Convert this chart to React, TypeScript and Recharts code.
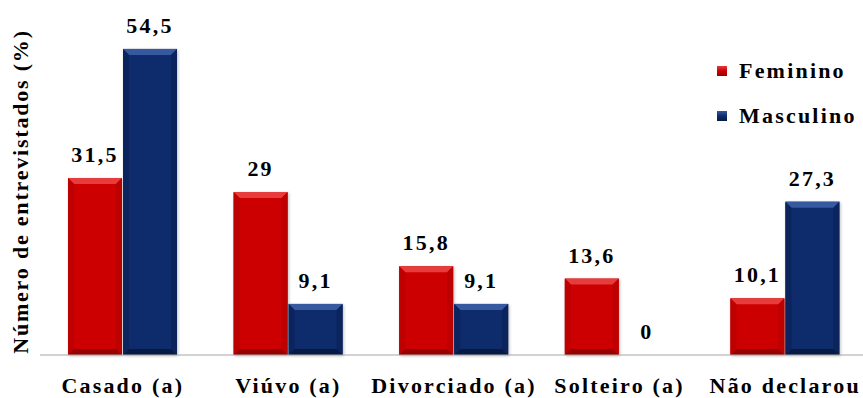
import React from 'react';
import { Bar, BarChart, LabelList, XAxis, YAxis } from 'recharts';

const categories = ['Casado (a)', 'Viúvo (a)', 'Divorciado (a)', 'Solteiro (a)', 'Não declarou'];
const feminino = [31.5, 29, 15.8, 13.6, 10.1];
const masculino = [54.5, 9.1, 9.1, 0, 27.3];

const data = categories.map((name, i) => ({ name, feminino: feminino[i], masculino: masculino[i] }));

const FONT = "'Liberation Serif', serif";
const SPACING = 2.2;

const palette = {
  feminino: { body: '#cc0000', light: '#e63c3c', side: '#bd0000', dark: '#960000' },
  masculino: { body: '#0e2b6c', light: '#36599f', side: '#0b245d', dark: '#071a46' },
};

type Tone = { body: string; light: string; side: string; dark: string };

// bar with a bevelled edge: lighter top, darker sides and bottom
const bevel = (tone: Tone) => (props: any) => {
  const { x, y, width, height } = props;
  if (!height || height <= 0) return <g />;
  const b = Math.min(6, height / 2, width / 2);
  const r = x + width;
  const btm = y + height;
  return (
    <g style={{ filter: 'drop-shadow(1px 1px 1.5px rgba(0,0,0,0.25))' }}>
      <rect x={x} y={y} width={width} height={height} fill={tone.body} />
      <polygon points={`${x},${y} ${r},${y} ${r - b},${y + b} ${x + b},${y + b}`} fill={tone.light} />
      <polygon points={`${x},${y} ${x + b},${y + b} ${x + b},${btm - b} ${x},${btm}`} fill={tone.side} />
      <polygon points={`${r},${y} ${r - b},${y + b} ${r - b},${btm - b} ${r},${btm}`} fill={tone.side} />
      <polygon points={`${x},${btm} ${x + b},${btm - b} ${r - b},${btm - b} ${r},${btm}`} fill={tone.dark} />
    </g>
  );
};

const valueLabel = (props: any) => {
  const { x, y, width, value } = props;
  return (
    <text
      x={x + width / 2}
      y={y - 16}
      textAnchor="middle"
      style={{ fontFamily: FONT, fontWeight: 'bold', fontSize: 22, letterSpacing: SPACING }}
      fill="#000"
    >
      {String(value).replace('.', ',')}
    </text>
  );
};

const CategoryTick = (props: any) => {
  const { x, y, payload } = props;
  return (
    <text
      x={x}
      y={y}
      dy={30}
      textAnchor="middle"
      style={{ fontFamily: FONT, fontWeight: 'bold', fontSize: 22, letterSpacing: SPACING }}
      fill="#000"
    >
      {payload.value}
    </text>
  );
};

const AxisTitle = (props: any) => {
  const { viewBox } = props;
  const cx = 28;
  const cy = viewBox.y + viewBox.height / 2 + 5;
  return (
    <text
      x={cx}
      y={cy}
      transform={`rotate(-90, ${cx}, ${cy})`}
      textAnchor="middle"
      style={{ fontFamily: FONT, fontWeight: 'bold', fontSize: 22, letterSpacing: 1.8 }}
      fill="#000"
    >
      Número de entrevistados (%)
    </text>
  );
};

const legendItems = [
  { label: 'Feminino', tone: palette.feminino },
  { label: 'Masculino', tone: palette.masculino },
];

const ChartLegend = () => (
  <div style={{ position: 'absolute', left: 717, top: 60, width: 146 }}>
    {legendItems.map((item, i) => (
      <div key={item.label} style={{ display: 'flex', alignItems: 'center', height: 22, marginBottom: i === 0 ? 23 : 0 }}>
        <span
          style={{
            display: 'inline-block',
            width: 10,
            height: 10,
            marginRight: 12,
            background: `linear-gradient(to bottom, ${item.tone.light}, ${item.tone.body} 50%, ${item.tone.dark})`,
          }}
        />
        <span
          style={{
            fontFamily: FONT,
            fontWeight: 'bold',
            fontSize: 22,
            lineHeight: '22px',
            letterSpacing: SPACING,
            color: '#000',
          }}
        >
          {item.label}
        </span>
      </div>
    ))}
  </div>
);

export default function App() {
  return (
    <div style={{ position: 'absolute', left: 0, top: 0, width: 863, height: 398, overflow: 'hidden', background: '#fff' }}>
      <BarChart width={868} height={398} data={data} margin={{ top: 18, right: 0, bottom: 0, left: 0 }} barSize={54} barGap={1}>
        <XAxis
          dataKey="name"
          height={43}
          tickLine={false}
          axisLine={{ stroke: '#a6a6a6' }}
          tick={<CategoryTick />}
          interval={0}
        />
        <YAxis width={40} domain={[0, 60]} tick={false} axisLine={false} tickLine={false} label={<AxisTitle />} />
        <Bar dataKey="feminino" name="Feminino" fill={palette.feminino.body} shape={bevel(palette.feminino)} isAnimationActive={false}>
          <LabelList dataKey="feminino" content={valueLabel} />
        </Bar>
        <Bar dataKey="masculino" name="Masculino" fill={palette.masculino.body} shape={bevel(palette.masculino)} isAnimationActive={false}>
          <LabelList dataKey="masculino" content={valueLabel} />
        </Bar>
      </BarChart>
      <ChartLegend />
    </div>
  );
}
